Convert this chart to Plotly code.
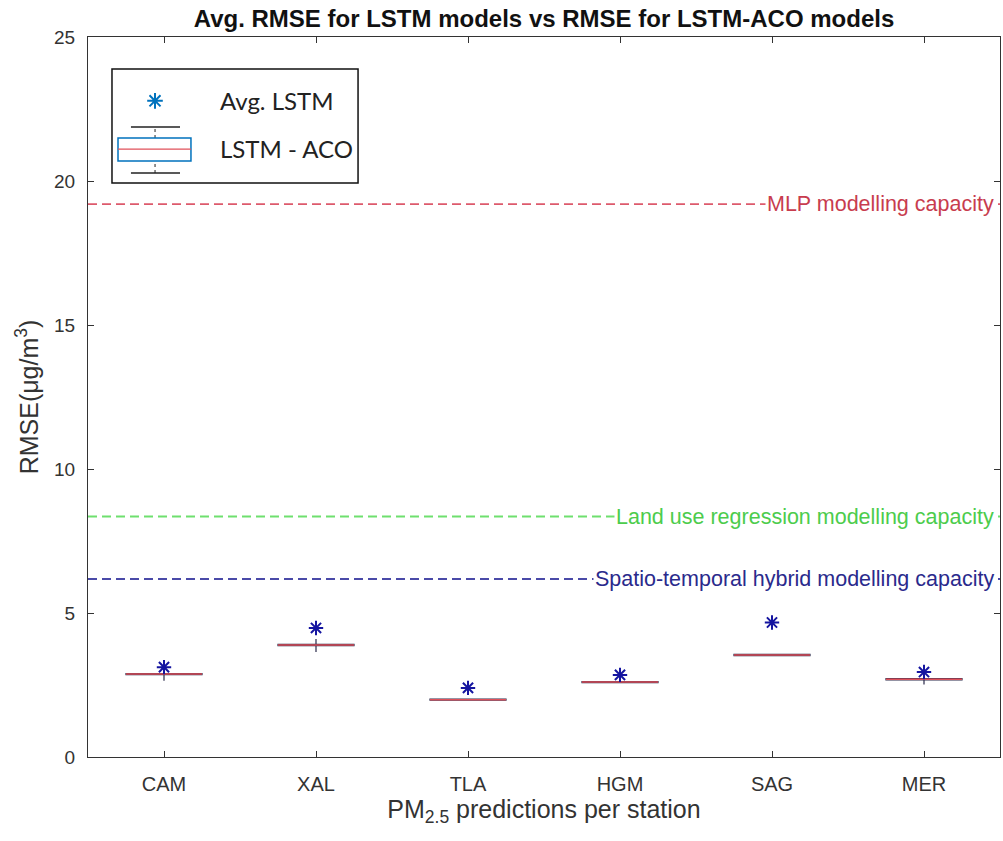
import plotly.graph_objects as go

stations = ["CAM", "XAL", "TLA", "HGM", "SAG", "MER"]
avg_lstm = [3.12, 4.48, 2.40, 2.85, 4.67, 2.95]
aco_median = [2.88, 3.89, 1.99, 2.60, 3.54, 2.70]
aco_q1 = [2.86, 3.87, 1.97, 2.58, 3.52, 2.68]
aco_q3 = [2.90, 3.91, 2.01, 2.62, 3.56, 2.72]
aco_low = [2.65, 3.65, 1.95, 2.57, 3.51, 2.52]
aco_high = [3.00, 4.10, 2.03, 2.63, 3.57, 2.80]

ref_names = ["MLP modelling capacity", "Land use regression modelling capacity",
             "Spatio-temporal hybrid modelling capacity"]
ref_values = [19.2, 8.35, 6.18]
ref_line_colors = ["#dd5a6c", "#6ee06e", "#4a4aa8"]
ref_text_colors = ["#c83c4e", "#4ccc4c", "#2a2a8c"]

pos = list(range(1, len(stations) + 1))
FONT = "Liberation Sans, Arial, sans-serif"

fig = go.Figure()

# Box plots (LSTM-ACO)
fig.add_trace(go.Box(
    x=pos, q1=aco_q1, median=aco_median, q3=aco_q3,
    lowerfence=aco_low, upperfence=aco_high,
    width=0.5, whiskerwidth=0, line=dict(color="#2a2a4a", width=1.2),
    fillcolor="rgba(0,0,0,0)", boxpoints=False, showlegend=False, hoverinfo="skip"))

# red median lines
mx, my = [], []
for p, m in zip(pos, aco_median):
    mx += [p - 0.25, p + 0.25, None]
    my += [m, m, None]
fig.add_trace(go.Scatter(x=mx, y=my, mode="lines", line=dict(color="#e0505a", width=1.5),
                         showlegend=False, hoverinfo="skip"))

# Avg LSTM stars
fig.add_trace(go.Scatter(x=pos, y=avg_lstm, mode="markers",
                         marker=dict(symbol="asterisk-open", size=12, color="#1515a0",
                                     line=dict(color="#1515a0", width=2)),
                         showlegend=False))

# Legend-only entries
fig.add_trace(go.Scatter(x=[None], y=[None], mode="markers", name="Avg. LSTM",
                         marker=dict(symbol="asterisk-open", size=13, color="#0072bd",
                                     line=dict(color="#0072bd", width=2)),
                         legendgroup="a"))
fig.add_trace(go.Box(x=[None], y=[None], name="LSTM - ACO", line=dict(color="rgba(0,0,0,0)", width=0),
                     fillcolor="rgba(0,0,0,0)", legendgroup="b"))

shapes = []
annotations = []
for name, v, lc, tc in zip(ref_names, ref_values, ref_line_colors, ref_text_colors):
    shapes.append(dict(type="line", xref="paper", yref="y", x0=0, x1=1, y0=v, y1=v,
                       line=dict(color=lc, width=1.8, dash="9px,5px"), layer="below"))
    annotations.append(dict(xref="paper", yref="y", x=1, y=v, xanchor="right", yanchor="middle",
                            xshift=-4, text=name, showarrow=False, bgcolor="white",
                            font=dict(family=FONT, size=21.5, color=tc)))

# legend frame and box-plot legend icon
shapes.append(dict(type="rect", xref="paper", yref="paper", x0=0.0263, x1=0.2961,
                   y0=0.7972, y1=0.9556, line=dict(color="#111111", width=1.5),
                   fillcolor="white", layer="above"))
icon = [
    dict(type="line", x0=0.0735, x1=0.0735, y0=0.8111, y1=0.8278, line=dict(color="#222222", width=1, dash="dot")),
    dict(type="line", x0=0.0735, x1=0.0735, y0=0.8597, y1=0.875, line=dict(color="#222222", width=1, dash="dot")),
    dict(type="line", x0=0.0471, x1=0.1009, y0=0.8111, y1=0.8111, line=dict(color="#222222", width=1.3)),
    dict(type="line", x0=0.0471, x1=0.1009, y0=0.875, y1=0.875, line=dict(color="#222222", width=1.3)),
    dict(type="rect", x0=0.0329, x1=0.1129, y0=0.8278, y1=0.8597, line=dict(color="#0072bd", width=1.5)),
    dict(type="line", x0=0.0329, x1=0.1129, y0=0.8444, y1=0.8444, line=dict(color="#e0505a", width=1.3)),
]
for s in icon:
    s.update(xref="paper", yref="paper", layer="above")
    shapes.append(s)

fig.update_layout(
    width=1003, height=841,
    margin=dict(l=88, r=3, t=37, b=84),
    paper_bgcolor="white", plot_bgcolor="white",
    font=dict(family=FONT, size=19, color="#333333"),
    title=dict(text="<b>Avg. RMSE for LSTM models vs RMSE for LSTM-ACO models</b>",
               x=0.5, xref="paper", xanchor="center", y=0.978, yanchor="middle",
               font=dict(family=FONT, size=24, color="#111111")),
    shapes=shapes, annotations=annotations,
    legend=dict(x=0.0022, y=0.942, xanchor="left", yanchor="top",
                borderwidth=0, bgcolor="rgba(0,0,0,0)",
                font=dict(family="Lato, Open Sans, sans-serif", size=24, color="#222222"),
                tracegroupgap=14, itemwidth=120),
)
fig.update_xaxes(range=[0.5, 6.5], tickvals=pos, ticktext=stations,
                 ticks="inside", ticklen=6, tickcolor="#333333", ticklabelstandoff=9,
                 tickfont=dict(size=20),
                 showline=True, linecolor="#333333", linewidth=1.2, mirror="ticks",
                 showgrid=False, zeroline=False,
                 title=dict(text="PM<sub>2.5</sub> predictions per station", standoff=4,
                            font=dict(size=25)))
fig.update_yaxes(range=[0, 25], tickvals=[0, 5, 10, 15, 20, 25],
                 ticks="inside", ticklen=6, tickcolor="#333333", ticklabelstandoff=8,
                 showline=True, linecolor="#333333", linewidth=1.2, mirror="ticks",
                 showgrid=False, zeroline=False,
                 title=dict(text="RMSE(\u03bcg/m<sup>3</sup>)", standoff=8, font=dict(size=25)))

fig.write_html("out.html")
